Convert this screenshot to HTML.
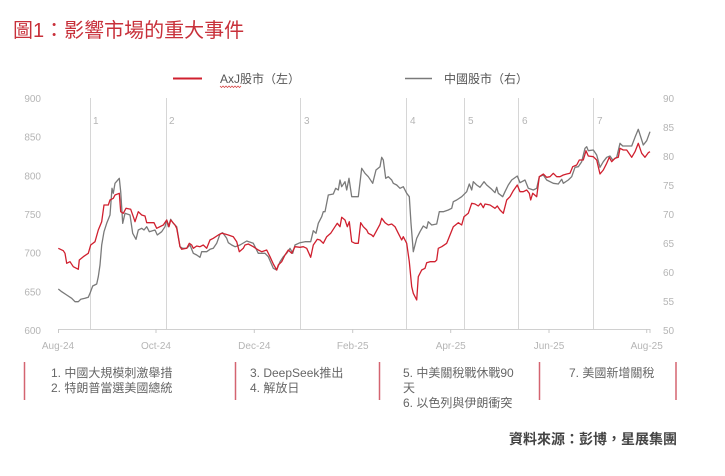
<!DOCTYPE html>
<html><head><meta charset="utf-8"><style>
html,body{margin:0;padding:0;background:#fff;}
svg{display:block;}
.ax{font-family:"Liberation Sans",sans-serif;font-size:10px;fill:#b5b5b5;}
.cj{font-family:"Liberation Sans","Noto Sans CJK TC",sans-serif;}
</style></head><body>
<svg width="725" height="476" viewBox="0 0 725 476" xmlns="http://www.w3.org/2000/svg">
<rect width="725" height="476" fill="#fff"/>
<text x="13" y="37" class="cj" font-size="20" fill="#c8303a">圖1：影響市場的重大事件</text>

<!-- legend -->
<line x1="173" y1="78.5" x2="202" y2="78.5" stroke="#d0202f" stroke-width="2"/>
<text x="220" y="83" class="cj" font-size="12" fill="#555">AxJ股市（左）</text>
<polyline points="220,86 221.5,87.5 223,86 224.5,87.5 226,86 227.5,87.5 229,86 230.5,87.5 232,86 233.5,87.5 235,86 236.5,87.5 238,86 239.5,87.5 241,86" fill="none" stroke="#d03030" stroke-width="0.7"/>
<line x1="405" y1="78.5" x2="432" y2="78.5" stroke="#7a7a7a" stroke-width="1.5"/>
<text x="444" y="83" class="cj" font-size="12" fill="#555">中國股市（右）</text>

<!-- left axis labels -->
<g class="ax" text-anchor="end">
<text x="41" y="102">900</text>
<text x="41" y="140.7">850</text>
<text x="41" y="179.3">800</text>
<text x="41" y="218">750</text>
<text x="41" y="256.7">700</text>
<text x="41" y="295.3">650</text>
<text x="41" y="334">600</text>
</g>
<g class="ax" text-anchor="start">
<text x="663" y="102">90</text>
<text x="663" y="131">85</text>
<text x="663" y="160">80</text>
<text x="663" y="189">75</text>
<text x="663" y="218">70</text>
<text x="663" y="247">65</text>
<text x="663" y="276">60</text>
<text x="663" y="305">55</text>
<text x="663" y="334">50</text>
</g>

<!-- event lines -->
<g stroke="#d6d6d6" stroke-width="1">
<line x1="90.5" y1="98" x2="90.5" y2="329"/>
<line x1="166.5" y1="98" x2="166.5" y2="329"/>
<line x1="300.5" y1="98" x2="300.5" y2="329"/>
<line x1="406.5" y1="98" x2="406.5" y2="329"/>
<line x1="464.5" y1="98" x2="464.5" y2="329"/>
<line x1="518.5" y1="98" x2="518.5" y2="329"/>
<line x1="593.5" y1="98" x2="593.5" y2="329"/>
</g>
<g class="ax" fill="#b8b8b8">
<text x="93" y="124">1</text>
<text x="169" y="124">2</text>
<text x="304" y="124">3</text>
<text x="410" y="124">4</text>
<text x="468" y="124">5</text>
<text x="522" y="124">6</text>
<text x="597" y="124">7</text>
</g>

<!-- x axis -->
<line x1="58" y1="329.5" x2="650" y2="329.5" stroke="#d0d0d0" stroke-width="1"/>
<g stroke="#c8c8c8" stroke-width="1">
<line x1="58.5" y1="329" x2="58.5" y2="333"/>
<line x1="156" y1="329" x2="156" y2="333"/>
<line x1="254.3" y1="329" x2="254.3" y2="333"/>
<line x1="352.7" y1="329" x2="352.7" y2="333"/>
<line x1="450.7" y1="329" x2="450.7" y2="333"/>
<line x1="549" y1="329" x2="549" y2="333"/>
<line x1="646.7" y1="329" x2="646.7" y2="333"/>
<line x1="650" y1="329" x2="650" y2="333"/>
</g>
<g class="ax" text-anchor="middle">
<text x="58" y="349">Aug-24</text>
<text x="156" y="349">Oct-24</text>
<text x="254.3" y="349">Dec-24</text>
<text x="352.7" y="349">Feb-25</text>
<text x="450.7" y="349">Apr-25</text>
<text x="549" y="349">Jun-25</text>
<text x="646.7" y="349">Aug-25</text>
</g>

<!-- gray series -->
<polyline fill="none" stroke="#7a7a7a" stroke-width="1.3" stroke-linejoin="round" points="
58.3,289 61.7,291.7 66.7,295 71.7,298.3 75,301.7 78.3,301.7 80.7,299.3 85,298.3 88.3,297.3 90,293.3 92.7,286 96.7,284 98.3,276.7 100,265 101.7,245 104,231.7 106.7,223.3 110,215 112,188.3 113.3,193.3 115,183.3 119.3,178.3 120.7,191.7 122.7,223.3 125,213.3 130,215 132.7,233.3 136,239.3 138.3,230 141.7,228.3 144,230 146.7,226.7 149.3,231.7 155,230 157.3,235 161.7,231.7 165,226.7 166.7,220 168.3,226.7 170.7,219.3 173.3,223.3 176.7,226.7 180,246.7 182.7,248.3 186.7,248.3 190,245 193.3,253.3 196.7,255 200,257.3 201.7,251.7 206.7,251.7 210,249.3 213.3,248.3 216.7,243.3 220,234 222.7,232.7 226.7,238.3 228.3,242.7 231.7,245 235,246.7 237.3,246 240,245 246.7,241 253.3,243.3 258.3,253.3 265,253.3 268.3,256.7 273.3,268.3 276.7,270 280,261.7 283.3,256.7 286.7,253.3 290,248.3 292.7,253.3 295,245 300,242.7 305,241.7 310.7,241.7 313.3,230.7 316,233.3 318.3,223.3 321.7,216.7 323.3,211.7 325,211.7 328.3,195 333.3,194 335.7,188.3 338.3,190 340,180 341.7,186.7 345,181.7 346.7,190 349,178.3 351.7,196.7 358.3,196.7 361.7,168.3 365,173.3 368.3,176.7 372.7,183.3 376,170 380,166.7 381.7,157.3 383.3,160 385.7,178.3 388.3,176.7 391.7,180 393.3,183.3 396.7,185 400,188.3 403.3,186.7 406.7,193.3 409.3,196.7 411,223.3 413.3,251.7 416.7,238.3 420,231.7 423.3,226 426.7,228.3 428.3,221.7 431.7,225 436.7,224 439.3,211.7 443.3,211.7 448.3,210 451.7,208.3 453.3,201.7 456.7,200 461.7,196.7 466.7,191.7 469.3,184 471.7,190 473.3,181.7 476.7,185 480,187.3 484,181.7 486.7,185 491.7,189.3 495,192.7 496.7,187.3 498.3,193.3 502.7,196.7 505,191.7 508.3,185 511.7,180 517.3,176 520,182.7 525,180 528.3,188.3 533.3,190 536.7,188.3 539.3,176.7 543.3,175 546.7,180 553.3,183.3 558.3,184 561.7,179.3 563.3,183.3 568.3,180 571.7,176.7 575,167.3 578.3,166.7 581.7,161.7 585,148.3 586.7,146.7 588.3,150.7 593.3,150 596.7,155 600,167.3 603.3,161.7 606.7,157.3 610,156 612.7,160 616.7,157.3 620,143.3 622.7,146 628.3,146 631.7,146 635,137.3 638.3,129.3 643.3,145 646.7,140.7 650,131.7"/>

<!-- red series -->
<polyline fill="none" stroke="#d0202f" stroke-width="1.3" stroke-linejoin="round" points="
58.3,248.3 63.3,250.7 65,253.3 66.7,263.3 70,261.7 73.3,266.7 78.3,269.3 79.3,260 83.3,256.7 88.3,253.3 90.7,245 95,241.7 98.3,230 101.7,221.7 104,205 108.3,205 110,200 113.3,198.3 115,195 119.3,193.3 120.7,211.7 123.3,213.3 126,208.3 130.7,209.3 133.3,216.7 135,221.7 138.3,211.7 141.7,215 145,216 146.7,222.7 154,222.7 156.7,228.3 163.3,225 166.7,220 169,226.7 170.7,220 175,225 176.7,228.3 180,246.7 181.7,249.3 186.7,248.3 189.3,243.3 191.7,245 193.3,248.3 196.7,246 200,246.7 203.3,245 206.7,248.3 210,240 213.3,238.3 218.3,235 221.7,233.3 225,234 228.3,235 233.3,236.7 236.7,241.7 239.3,251.7 243.3,248.3 245,245 248.3,244 253.3,246.7 258.3,250 261.7,251.7 266.7,250 270,256.7 273.3,264 276.7,270 278.3,265 281.7,261.7 285,255 288.3,250 291.7,253.3 295,246.7 300,247.3 303.3,246.7 306.7,248.3 310.7,257.3 313.3,245 317.3,239.3 320,240 323.3,243.3 326.7,236.7 330.7,233.3 335,226.7 337.3,223.3 340,226.7 341.7,217.3 345,220 347.3,226.7 349.3,221.7 351.7,241.7 355,243.3 358.3,243.3 360.7,222.7 363.3,226.7 366.7,230 368.3,233.3 371.7,235 373.3,236.7 376,231.7 380,224.3 381.7,218.3 385,222.7 388.3,225 391.7,224 395,226.7 398.3,233.3 401.7,240 403.3,236.7 406.7,243.3 409.3,261.7 411.7,286.7 413.3,293.3 416.7,300 418.3,276.7 421.7,270 425,268.3 426.7,262.7 430,261.7 435,261.7 436.7,260 438.3,248.3 441.7,246.7 446.7,243.3 449.3,236.7 453.3,226.7 458.3,222.7 461.7,225 464,216.7 468.3,213.3 471.7,203.3 475,204 478.3,206 480.7,203.3 483.3,207.7 485,204 490,205 495,208.3 497.3,206 500,210 503.3,213.3 506.7,200 510,196.7 513.3,190.7 517.3,185 520,191.7 523.3,191.7 526.7,190 529.3,193.3 530.7,200 532.7,193.3 536.7,196.7 539.3,176.7 543.3,174 546.7,177.3 550,176.7 553.3,173.3 556.7,176.7 560,176.7 563.3,175 566.7,174 570,173.3 572.7,166.7 576.7,165 579.3,160 583.3,160 586,150.7 588.3,156 593.3,156.7 596.7,160 600,174 603.3,170 606.7,163.3 609.3,157.3 611.7,161.7 615,158.3 618.3,157.3 620,148.3 623.3,150 626.7,150 631.7,157.3 635,151.7 638.3,143.3 641.7,153.3 645,157.3 648.3,152.7 650,151.7"/>

<!-- annotation boxes -->
<g stroke="#d46470" stroke-width="1.5">
<line x1="24.5" y1="362" x2="24.5" y2="400"/>
<line x1="235.5" y1="362" x2="235.5" y2="400"/>
<line x1="379.5" y1="362" x2="379.5" y2="400"/>
<line x1="539.5" y1="362" x2="539.5" y2="400"/>
<line x1="676" y1="362" x2="676" y2="400"/>
</g>
<g class="cj" font-size="12" fill="#666">
<text x="51" y="377">1. 中國大規模刺激舉措</text>
<text x="51" y="392">2. 特朗普當選美國總統</text>
<text x="250" y="377">3. DeepSeek推出</text>
<text x="250" y="392">4. 解放日</text>
<text x="403" y="377">5. 中美關稅戰休戰90</text>
<text x="403" y="392">天</text>
<text x="403" y="407">6. 以色列與伊朗衝突</text>
<text x="569" y="377">7. 美國新增關稅</text>
</g>
<text x="677" y="444" class="cj" font-size="14" font-weight="bold" fill="#444" text-anchor="end">資料來源：彭博，星展集團</text>
</svg>
</body></html>
